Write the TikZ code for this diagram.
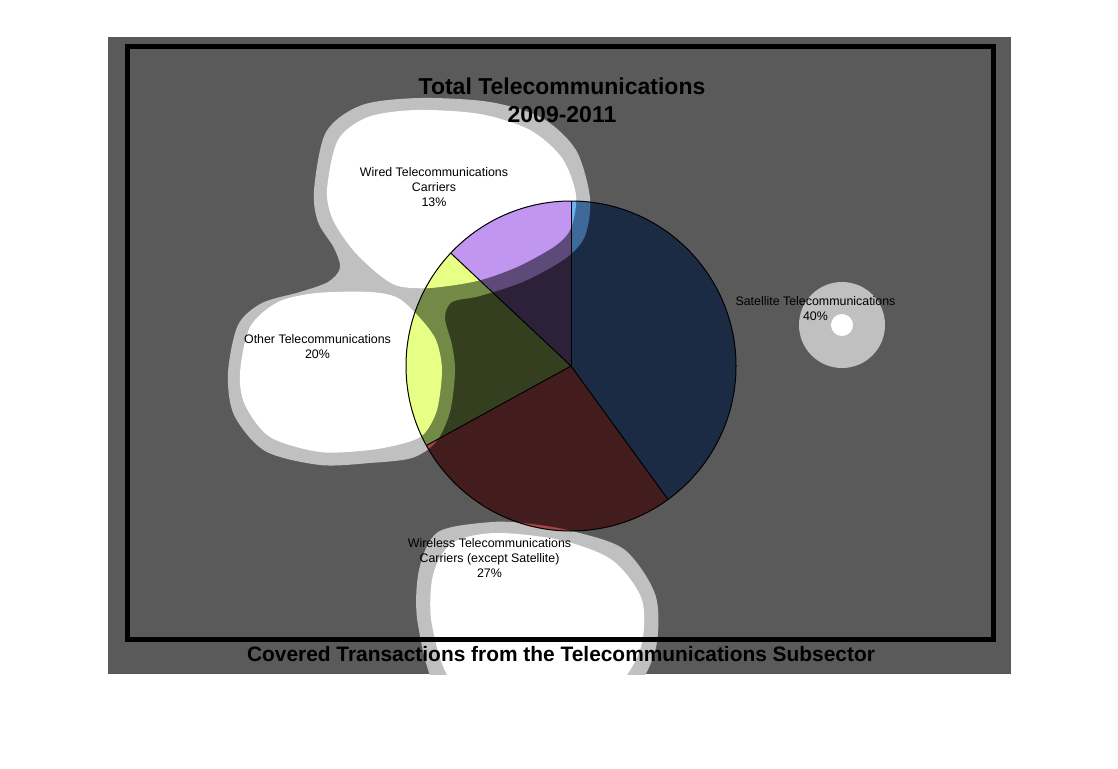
\documentclass[tikz,border=0pt]{standalone}
\usepackage{fontspec}
\setmainfont{Liberation Sans}

\definecolor{bgGray}{HTML}{5A5A5A}
\definecolor{haloGray}{HTML}{C0C0C0}
\definecolor{satBright}{HTML}{6AB2F2}
\definecolor{satMid}{HTML}{3E6A9A}
\definecolor{satDark}{HTML}{1C2B44}
\definecolor{wlsBright}{HTML}{F07878}
\definecolor{wlsMid}{HTML}{A84444}
\definecolor{wlsDark}{HTML}{431C1E}
\definecolor{othBright}{HTML}{E6FF84}
\definecolor{othMid}{HTML}{738A46}
\definecolor{othDark}{HTML}{343F20}
\definecolor{wrdBright}{HTML}{C096F0}
\definecolor{wrdMid}{HTML}{5E4A78}
\definecolor{wrdDark}{HTML}{2C2139}

\newcommand{\pieR}{165}
\newcommand{\satEnd}{54}
\newcommand{\wlsEnd}{151.2}
\newcommand{\othEnd}{223.2}

% Blob shapes (pixel coordinates, y down)
\newcommand{\wiredBlob}{plot[smooth cycle] coordinates {(417,110) (480,114) (530,130) (562,158) (576,195) (571,228) (555,246) (517,267) (477,281) (430,288) (398,286) (377,273) (353,250) (333,220) (327,190) (338,140) (368,117)}}
\newcommand{\otherBlob}{plot[smooth cycle] coordinates {(317,293) (370,292) (398,298) (420,318) (436,340) (442,370) (437,410) (424,434) (405,443) (370,450) (320,452) (270,437) (245,405) (240,373) (250,327) (278,302)}}
\newcommand{\wirelessBlob}{plot[smooth cycle] coordinates {(495,533) (560,540) (612,560) (642,600) (640,650) (610,690) (530,705) (455,685) (432,625) (433,575) (452,543)}}
\newcommand{\satBlob}{(842,325) circle[radius=11]}
\newcommand{\upperHalo}{plot[smooth cycle] coordinates {(420,98) (490,102) (542,118) (576,150) (590,198) (585,236) (566,258) (525,281) (480,296) (452,302) (445,318) (452,345) (455,372) (450,412) (436,442) (412,458) (370,463) (320,465) (265,451) (234,415) (228,373) (238,325) (262,303) (300,292) (328,282) (340,268) (334,248) (318,222) (314,190) (326,132) (362,105)}}
\newcommand{\wirelessHalo}{plot[smooth cycle] coordinates {(492,522) (532,524) (576,532) (625,550) (656,597) (654,655) (620,703) (530,718) (443,697) (418,625) (419,570) (438,532)}}
\newcommand{\satHalo}{(842,325) circle[radius=43]}

\newcommand{\pieSlices}[4]{%
  \fill[#1] (pie) -- ++(-90:\pieR) arc[start angle=-90, end angle=\satEnd, radius=\pieR] -- cycle;
  \fill[#2] (pie) -- ++(\satEnd:\pieR) arc[start angle=\satEnd, end angle=\wlsEnd, radius=\pieR] -- cycle;
  \fill[#3] (pie) -- ++(\wlsEnd:\pieR) arc[start angle=\wlsEnd, end angle=\othEnd, radius=\pieR] -- cycle;
  \fill[#4] (pie) -- ++(\othEnd:\pieR) arc[start angle=\othEnd, end angle=270, radius=\pieR] -- cycle;
}

\tikzset{
  pieEdge/.style={draw=black, line width=1},
  sliceLabel/.style={align=center, inner sep=0, font=\fontsize{12.4}{15}\selectfont},
  chartTitle/.style={align=center, inner sep=0, font=\bfseries\fontsize{23}{28}\selectfont},
  chartSubtitle/.style={inner sep=0, font=\bfseries\fontsize{20.9}{25}\selectfont},
}

\begin{document}
\begin{tikzpicture}[x=1pt, y=-1pt]
    \useasboundingbox (0,0) rectangle (1118,768);
    \coordinate (pie) at (571,366);

    % Background with halos and blobs
    \begin{scope}
        \clip (108,37) rectangle (1011,674);
        \fill[bgGray] (108,37) rectangle (1011,674);
        \fill[haloGray] \upperHalo \wirelessHalo \satHalo;
        \fill[white] \wiredBlob \otherBlob \wirelessBlob \satBlob;
    \end{scope}

    % Pie, dark part
    \pieSlices{satDark}{wlsDark}{othDark}{wrdDark}

    % Pie under the halos
    \begin{scope}
        \clip \upperHalo \wirelessHalo;
        \pieSlices{satMid}{wlsMid}{othMid}{wrdMid}
    \end{scope}

    % Pie under the blobs
    \begin{scope}
        \clip \wiredBlob \otherBlob \wirelessBlob;
        \pieSlices{satBright}{wlsBright}{othBright}{wrdBright}
    \end{scope}

    % Pie edges
    \draw[pieEdge] (pie) circle[radius=\pieR];
    \foreach \a in {-90,\satEnd,\wlsEnd,\othEnd}
        \draw[pieEdge] (pie) -- ++(\a:\pieR);

    % Frame
    \draw[line width=5] (127.5,46.5) rectangle (993.5,639.5);

    % Titles
    \node[chartTitle] (title) at (562,100) {Total Telecommunications\\2009-2011};
    \node[chartSubtitle] (subtitle) at (561,654) {Covered Transactions from the Telecommunications Subsector};

    % Slice labels
    \node[sliceLabel] (wiredLabel) at (434,187) {Wired Telecommunications\\Carriers\\13\%};
    \node[sliceLabel] (otherLabel) at (317.5,346.5) {Other Telecommunications\\20\%};
    \node[sliceLabel] (satLabel) at (815.5,309) {Satellite Telecommunications\\40\%};
    \node[sliceLabel] (wirelessLabel) at (489.5,558) {Wireless Telecommunications\\Carriers (except Satellite)\\27\%};
\end{tikzpicture}
\end{document}
